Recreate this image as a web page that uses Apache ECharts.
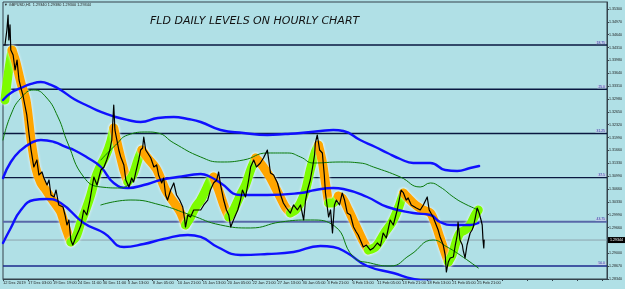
<!DOCTYPE html>
<html><head><meta charset="utf-8">
<script src="https://cdn.jsdelivr.net/npm/echarts@6/dist/echarts.min.js"></script>
<style>html,body{margin:0;padding:0;background:#B0E0E6;}#c{width:625px;height:289px;}</style>
</head><body><div id="c"></div>
<script>
// ---------- data ----------
const xTickLabels = ["12 Dec 2019","17 Dec 03:00","19 Dec 19:00","24 Dec 11:00","30 Dec 11:00","3 Jan 13:00","8 Jan 05:00","10 Jan 21:00","15 Jan 13:00","20 Jan 05:00","22 Jan 21:00","27 Jan 13:00","30 Jan 05:00","3 Feb 21:00","6 Feb 13:00","11 Feb 05:00","13 Feb 21:00","18 Feb 13:00","21 Feb 05:00","25 Feb 21:00"];
const yTickLabels = ["1.28340","1.28670","1.29000","","1.29660","1.29990","1.30330","1.30660","1.30990","1.31330","1.31660","1.31990","1.32320","1.32650","1.32980","1.33310","1.33640","1.33980","1.34310","1.34640","1.34970","1.35300"];
const levelValues = [1.34370,1.33231,1.32092,1.30953,1.29814,1.28675];
const levelNames = ["18.75","25.0","31.25","37.5","43.75","50.0"];
const currentPrice = 1.29344;
const headerText = "GBPUSD,H1  1.29340 1.29380 1.29300 1.29344";
const titleText = "FLD DAILY LEVELS ON HOURLY CHART";

// price path [bar, price]
const priceLine = [[5,1.34372],[10,1.34759],[13,1.35145],[15,1.34501],[18,1.34888],[20,1.34243],[26,1.34114],[31,1.33728],[36,1.33985],[41,1.33470],[46,1.33264],[51,1.33083],[56,1.32825],[61,1.32568],[67,1.32052],[72,1.31665],[79,1.31227],[87,1.31408],[92,1.31021],[100,1.31098],[105,1.30944],[113,1.30763],[118,1.30892],[123,1.30505],[131,1.30454],[136,1.30634],[143,1.30248],[154,1.30196],[159,1.29990],[164,1.29732],[169,1.29861],[174,1.29345],[179,1.29216],[187,1.29423],[195,1.29603],[200,1.29732],[207,1.30119],[215,1.29990],[223,1.30376],[233,1.30969],[241,1.30763],[251,1.31150],[259,1.31227],[266,1.31408],[274,1.31665],[279,1.31923],[284,1.32825],[287,1.32181],[292,1.32232],[297,1.31665],[302,1.31485],[310,1.31279],[315,1.30892],[323,1.30712],[330,1.30944],[335,1.30840],[340,1.31072],[348,1.31408],[353,1.31665],[358,1.31717],[361,1.32000],[366,1.31665],[371,1.31588],[379,1.31459],[387,1.31227],[394,1.31279],[399,1.31021],[407,1.30815],[412,1.30944],[417,1.30505],[422,1.30376],[430,1.30634],[438,1.30815],[445,1.30505],[453,1.30376],[461,1.30196],[466,1.29861],[468,1.29680],[474,1.29990],[481,1.29938],[489,1.30119],[499,1.30119],[507,1.30119],[515,1.30248],[525,1.30376],[532,1.30634],[540,1.30815],[548,1.30892],[553,1.31098],[558,1.30763],[566,1.30376],[573,1.30119],[579,1.29990],[584,1.29680],[591,1.29861],[602,1.30119],[609,1.30376],[614,1.30634],[622,1.30454],[630,1.30892],[635,1.31227],[643,1.31408],[650,1.31227],[660,1.31330],[668,1.31459],[678,1.31665],[686,1.31072],[694,1.31021],[704,1.30815],[712,1.30505],[719,1.30299],[727,1.30170],[737,1.30041],[745,1.30248],[755,1.30119],[763,1.30248],[771,1.29861],[776,1.30376],[781,1.30634],[788,1.30892],[794,1.31227],[799,1.31536],[801,1.31846],[806,1.32052],[812,1.31665],[819,1.31588],[824,1.31021],[827,1.30557],[835,1.29938],[840,1.30119],[845,1.29526],[850,1.30248],[855,1.30376],[863,1.30248],[870,1.30557],[876,1.30376],[883,1.30041],[891,1.29990],[899,1.29680],[906,1.29552],[911,1.29474],[916,1.29423],[924,1.29165],[932,1.29216],[942,1.29087],[950,1.29139],[960,1.29268],[968,1.29191],[975,1.29526],[983,1.29397],[993,1.29861],[1001,1.29732],[1011,1.30119],[1016,1.30376],[1021,1.30634],[1027,1.30557],[1034,1.30376],[1039,1.30428],[1047,1.30248],[1052,1.30299],[1060,1.30170],[1070,1.30119],[1078,1.30248],[1088,1.30454],[1093,1.30119],[1098,1.30170],[1103,1.29938],[1111,1.29732],[1116,1.29603],[1121,1.29423],[1129,1.29216],[1134,1.28959],[1137,1.28520],[1142,1.28778],[1147,1.28881],[1155,1.28907],[1160,1.29216],[1165,1.29474],[1167,1.29809],[1172,1.29345],[1178,1.29216],[1180,1.29087],[1185,1.28881],[1190,1.29216],[1198,1.29526],[1203,1.29603],[1206,1.29680],[1211,1.29912],[1216,1.30170],[1221,1.30041],[1226,1.29861],[1229,1.29732],[1231,1.29345],[1233,1.29139],[1234,1.29344]];

// FLD zig-zag band [bar, price]
const bandLine = [[5,1.32954],[13,1.33599],[23,1.34243],[33,1.33934],[46,1.33392],[59,1.32954],[72,1.31923],[84,1.31201],[97,1.30815],[110,1.30634],[123,1.30428],[136,1.30248],[148,1.30067],[161,1.29655],[174,1.29294],[187,1.29423],[200,1.29809],[212,1.30119],[225,1.30505],[238,1.30969],[251,1.31279],[264,1.31536],[276,1.31872],[284,1.32232],[297,1.31665],[310,1.31150],[320,1.30840],[333,1.31021],[346,1.31408],[356,1.31665],[371,1.31459],[392,1.31201],[404,1.30944],[417,1.30634],[430,1.30428],[443,1.30248],[456,1.30041],[468,1.29732],[481,1.29938],[494,1.30196],[507,1.30376],[520,1.30634],[532,1.30892],[540,1.30969],[553,1.30634],[566,1.30248],[579,1.29938],[591,1.30119],[609,1.30505],[622,1.30763],[635,1.31150],[648,1.31459],[660,1.31330],[673,1.31150],[686,1.30944],[699,1.30686],[712,1.30428],[724,1.30196],[737,1.30041],[750,1.30119],[763,1.30299],[776,1.30634],[788,1.31150],[801,1.31614],[809,1.31794],[819,1.31356],[827,1.30815],[835,1.30299],[847,1.30299],[860,1.30480],[870,1.30428],[886,1.30119],[904,1.29732],[922,1.29345],[937,1.29087],[955,1.29165],[968,1.29345],[980,1.29552],[998,1.29809],[1014,1.30170],[1027,1.30557],[1039,1.30428],[1052,1.30299],[1065,1.30196],[1078,1.30119],[1096,1.30041],[1108,1.29784],[1121,1.29397],[1134,1.29010],[1142,1.28778],[1152,1.28959],[1162,1.29294],[1172,1.29526],[1185,1.29603],[1198,1.29732],[1211,1.29990],[1219,1.30119]];
// bars where the band switches colour (starts rising = green)
const bandTurns = [23,174,284,320,356,468,540,579,648,737,809,835,860,937,1027,1142];

const blueUpper = [[0,1.32954],[20,1.33135],[46,1.33264],[72,1.33367],[97,1.33418],[123,1.33341],[148,1.33212],[182,1.32980],[218,1.32800],[251,1.32645],[289,1.32516],[320,1.32439],[353,1.32387],[397,1.32490],[438,1.32516],[474,1.32464],[507,1.32387],[558,1.32181],[617,1.32104],[678,1.32052],[724,1.32078],[763,1.32104],[814,1.32155],[847,1.32181],[873,1.32155],[916,1.31923],[955,1.31743],[986,1.31588],[1019,1.31433],[1052,1.31330],[1096,1.31330],[1134,1.31150],[1165,1.31124],[1198,1.31201],[1221,1.31253]];
const blueMiddle = [[0,1.30944],[20,1.31356],[46,1.31665],[72,1.31846],[97,1.31923],[131,1.31872],[161,1.31743],[182,1.31665],[218,1.31459],[251,1.31227],[284,1.30815],[320,1.30686],[361,1.30763],[404,1.30892],[448,1.30969],[481,1.31021],[507,1.31047],[532,1.30969],[558,1.30815],[609,1.30505],[678,1.30505],[763,1.30557],[801,1.30634],[847,1.30686],[873,1.30660],[934,1.30454],[986,1.30196],[1052,1.30041],[1096,1.29990],[1121,1.29809],[1155,1.29732],[1198,1.29732],[1219,1.29784]];
const blueLower = [[0,1.29268],[20,1.29655],[46,1.30119],[79,1.30376],[110,1.30402],[148,1.30299],[207,1.29784],[259,1.29526],[310,1.29165],[361,1.29242],[412,1.29371],[474,1.29474],[507,1.29423],[550,1.29165],[609,1.28959],[678,1.28984],[745,1.29036],[814,1.29191],[847,1.29165],[883,1.29010],[934,1.28675],[1001,1.28495],[1052,1.28340],[1096,1.28288]];

const greenLeft = [[0,1.31923],[20,1.32568],[46,1.33006],[79,1.33212],[110,1.33032],[141,1.32516],[166,1.31846],[207,1.30969],[251,1.30712],[302,1.30686],[335,1.30892]];
const greenUpper = [[251,1.31408],[289,1.31794],[320,1.32052],[371,1.32129],[397,1.32104],[438,1.31846],[507,1.31485],[558,1.31356],[617,1.31408],[678,1.31588],[730,1.31588],[763,1.31485],[796,1.31330],[865,1.31356],[916,1.31330],[950,1.31227],[1019,1.30969],[1070,1.30712],[1096,1.30815],[1121,1.30712],[1155,1.30454],[1180,1.30299],[1219,1.30119]];
const greenLower = [[251,1.30248],[328,1.30376],[404,1.30248],[481,1.29990],[558,1.29732],[635,1.29655],[712,1.29809],[789,1.29861],[850,1.29706],[899,1.28907],[942,1.28752],[993,1.28675],[1044,1.28959],[1103,1.29345],[1139,1.29165],[1172,1.28959],[1219,1.28623]];

// ---------- chart ----------
const PMIN = 1.28340, PMAX = 1.35480, STEP = 0.0033143, BARMAX = 1549;
const chart = echarts.init(document.getElementById('c'), null, {renderer:'canvas'});

function lineSeries(data, color, width, z, smooth) {
  return {type:'line', data, xAxisIndex:0, yAxisIndex:0, showSymbol:false, symbol:'none',
    smooth: smooth, z, silent:true, animation:false,
    itemStyle:{color},
    lineStyle: {color, width, cap:'round', join:'round', opacity:1}};
}

// band split into coloured segments at the turn bars
const bandSegments = [];
{
  let cur = [], green = true, ti = 0;
  bandLine.forEach(p => {
    cur.push(p);
    if (ti < bandTurns.length && p[0] >= bandTurns[ti]) {
      bandSegments.push({green, pts: cur});
      cur = [p]; green = !green; ti++;
    }
  });
  if (cur.length > 1) bandSegments.push({green, pts: cur});
}
const bandSeries = bandSegments.map(sg => {
  const s = lineSeries(sg.pts, sg.green ? '#7CFC00' : '#FFA500', 9, 3, 0.3);
  s.lineStyle.shadowColor = 'rgba(255,255,255,0.95)';
  s.lineStyle.shadowBlur = 3;
  return s;
});

const levelSeries = levelValues.map((v,i) => {
  const s = lineSeries([[0,v],[BARMAX,v]], i===4 ? '#5868a8' : (i===5 ? '#1c2a8c' : '#0a1840'), i===4 ? 2 : 1.4, 1, false);
  s.lineStyle.cap = 'butt';
  s.endLabel = {show:true, formatter: levelNames[i], align:'right', verticalAlign:'bottom', offset:[-1,-1], distance:0,
    fontSize:3.4, fontFamily:'Liberation Sans', color:'#2a3aa0', backgroundColor:'#c4cfe8', padding:[0,1,0,1]};
  return s;
});
const currentSeries = lineSeries([[0,currentPrice],[BARMAX,currentPrice]], '#8ea4ae', 1, 1, false);
currentSeries.lineStyle.cap = 'butt';
currentSeries.endLabel = {show:true, formatter: currentPrice.toFixed(5), distance:1,
  fontSize:3.6, fontFamily:'Liberation Sans', color:'#fff', backgroundColor:'#000', padding:[1,2,1,2]};

const series = [
  ...levelSeries,
  currentSeries,
  ...bandSeries,
  lineSeries(blueUpper, '#1010ff', 2.4, 4, 0.5),
  lineSeries(blueMiddle, '#1010ff', 2.4, 4, 0.5),
  lineSeries(blueLower, '#1010ff', 2.4, 4, 0.5),
  lineSeries(greenLeft, '#0a7a0a', 1, 4, 0.5),
  lineSeries(greenUpper, '#0a7a0a', 1, 4, 0.5),
  lineSeries(greenLower, '#0a7a0a', 1, 4, 0.5),
  lineSeries(priceLine, '#000000', 1.2, 6, false)
];

chart.setOption({
  animation:false,
  backgroundColor:'#B0E0E6',
  grid:{left:2, top:2, right:18, bottom:10, show:true, borderColor:'#34434c', borderWidth:1, backgroundColor:'transparent'},
  xAxis:{type:'value', min:0, max:BARMAX, interval:64,
    axisLine:{show:true, lineStyle:{color:'#34434c', width:1}},
    axisTick:{show:true, length:2, lineStyle:{color:'#34434c'}},
    splitLine:{show:false},
    axisLabel:{fontSize:4, fontFamily:'Liberation Sans', color:'#1a1a1a', align:'left', margin:2, showMaxLabel:false,
      formatter: v => { const k = Math.round(v/64); return Math.abs(v - k*64) < 0.5 ? (xTickLabels[k] || '') : ''; }}},
  yAxis:[
    {type:'value', min:PMIN, max:PMAX, show:false, splitLine:{show:false}},
    {type:'value', position:'right', min:0, max:(PMAX-PMIN)/STEP, interval:1,
      axisLine:{show:true, lineStyle:{color:'#34434c', width:1}},
      axisTick:{show:true, length:2, lineStyle:{color:'#34434c'}},
      splitLine:{show:false},
      axisLabel:{fontSize:3.6, fontFamily:'Liberation Sans', color:'#1a1a1a', margin:2, showMaxLabel:false,
        formatter: v => { const k = Math.round(v); return Math.abs(v-k) < 0.01 ? (yTickLabels[k] || '') : ''; }}}
  ],
  graphic:[
    {type:'text', left:4, top:3, z:100, style:{text: '\u25BC ' + headerText, fontSize:3.8, fontFamily:'Liberation Sans', fill:'#222'}},
    {type:'text', left:150, top:16, z:100, style:{text: titleText, fontSize:11, fontStyle:'italic', fontFamily:'DejaVu Sans', fill:'#111'}}
  ],
  series
});
</script></body></html>
